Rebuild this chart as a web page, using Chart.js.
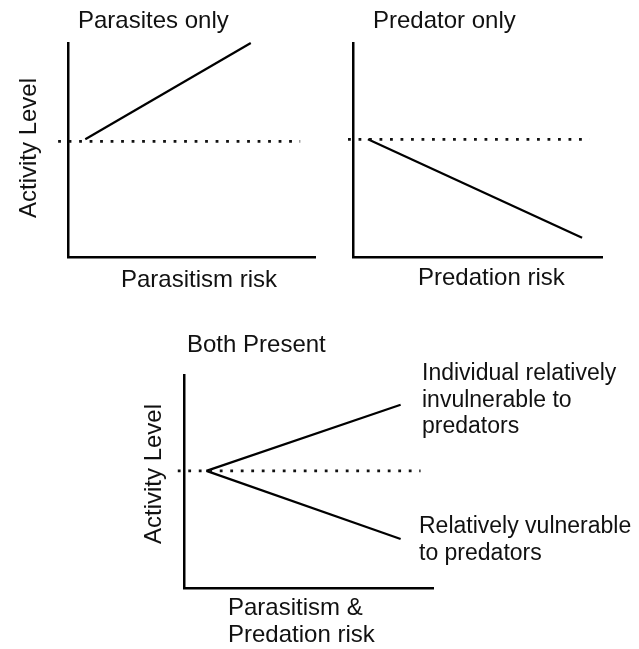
<!DOCTYPE html>
<html>
<head>
<meta charset="utf-8">
<script src="https://cdn.jsdelivr.net/npm/chart.js@4"></script>
<style>
    body { margin: 0; background: #fff; }
    #wrap { position: relative; width: 639px; height: 649px; }
    #wrap canvas { position: absolute; left: 0; top: 0; }
</style>
</head>
<body>
<div id="wrap">
    <canvas id="c1" width="639" height="649"></canvas>
    <canvas id="c2" width="639" height="649"></canvas>
    <canvas id="c3" width="639" height="649"></canvas>
</div>
<script>
// conceptual axes run 0..10 (no units)
const panelTitles = ['Parasites only', 'Predator only', 'Both Present'];
const xTitles = [['Parasitism risk'], ['Predation risk'], ['Parasitism &', 'Predation risk']];
const yTitle = 'Activity Level';

// dotted reference level (no enemies)
const p1BaseX = [-0.4, 9.4];
const p1BaseY = [5.4, 5.4];
const p2BaseX = [-0.2, 9.5];
const p2BaseY = [5.5, 5.5];
const p3BaseX = [-0.25, 9.5];
const p3BaseY = [5.5, 5.5];

// responses
const p1RespX = [0.7, 7.4];
const p1RespY = [5.5, 10];
const p2RespX = [0.6, 9.2];
const p2RespY = [5.5, 0.9];
const p3RespX = [0.9, 8.7];
const p3InvulnY = [5.5, 8.6];
const p3VulnY = [5.5, 2.3];

const endLabels = [
    ['Individual relatively', 'invulnerable to', 'predators'],
    ['Relatively vulnerable', 'to predators']
];

const FONT = '"Liberation Sans", Arial, sans-serif';

const pts = (xs, ys) => xs.map((x, i) => ({ x, y: ys[i] }));

const dotted = (xs, ys) => ({
    data: pts(xs, ys),
    showLine: true,
    borderColor: '#111',
    borderWidth: 2.8,
    borderDash: [2.8, 7.7],
    pointRadius: 0,
    clip: false,
});

const solid = (xs, ys) => ({
    data: pts(xs, ys),
    showLine: true,
    borderColor: '#000',
    borderWidth: 2.2,
    pointRadius: 0,
    clip: false,
});

// draws texts given as {text, x, y, rot, size}
const textPlugin = (items) => ({
    id: 'texts',
    afterDraw(chart) {
        const ctx = chart.ctx;
        ctx.save();
        ctx.fillStyle = '#111';
        ctx.textBaseline = 'alphabetic';
        items.forEach(it => {
            ctx.save();
            ctx.font = `${it.size || 24}px ${FONT}`;
            ctx.translate(it.x, it.y);
            if (it.rot) {
                ctx.rotate(-Math.PI / 2);
                ctx.textAlign = 'center';
            } else {
                ctx.textAlign = 'left';
            }
            ctx.fillText(it.text, 0, 0);
            ctx.restore();
        });
        ctx.restore();
    }
});

const axis = () => ({
    type: 'linear',
    min: 0,
    max: 10,
    ticks: { display: false },
    grid: { display: false, drawTicks: false },
    border: { display: true, color: '#000', width: 2.5 },
});

const makePanel = (id, area, datasets, texts) => {
    const canvas = document.getElementById(id);
    new Chart(canvas.getContext('2d'), {
        type: 'scatter',
        data: { datasets },
        options: {
            responsive: false,
            animation: false,
            events: [],
            layout: {
                padding: {
                    left: area.left,
                    top: area.top,
                    right: 639 - area.right,
                    bottom: 649 - area.bottom,
                }
            },
            plugins: {
                legend: { display: false },
                tooltip: { enabled: false },
            },
            scales: { x: axis(), y: axis() },
        },
        plugins: [textPlugin(texts)],
    });
};

makePanel('c1', { left: 68, top: 43, right: 315, bottom: 257 },
    [dotted(p1BaseX, p1BaseY), solid(p1RespX, p1RespY)],
    [
        { text: panelTitles[0], x: 78, y: 28 },
        { text: xTitles[0][0], x: 121, y: 287 },
        { text: yTitle, x: 36, y: 148, rot: true },
    ]);

makePanel('c2', { left: 353, top: 43, right: 602, bottom: 257 },
    [dotted(p2BaseX, p2BaseY), solid(p2RespX, p2RespY)],
    [
        { text: panelTitles[1], x: 373, y: 28 },
        { text: xTitles[1][0], x: 418, y: 285 },
    ]);

makePanel('c3', { left: 184, top: 375, right: 433, bottom: 588 },
    [dotted(p3BaseX, p3BaseY), solid(p3RespX, p3InvulnY), solid(p3RespX, p3VulnY)],
    [
        { text: panelTitles[2], x: 187, y: 352 },
        { text: xTitles[2][0], x: 228, y: 615 },
        { text: xTitles[2][1], x: 228, y: 642 },
        { text: yTitle, x: 161, y: 474, rot: true },
        { text: endLabels[0][0], x: 422, y: 380, size: 23 },
        { text: endLabels[0][1], x: 422, y: 407, size: 23 },
        { text: endLabels[0][2], x: 422, y: 433, size: 23 },
        { text: endLabels[1][0], x: 419, y: 533, size: 23 },
        { text: endLabels[1][1], x: 419, y: 560, size: 23 },
    ]);
</script>
</body>
</html>
